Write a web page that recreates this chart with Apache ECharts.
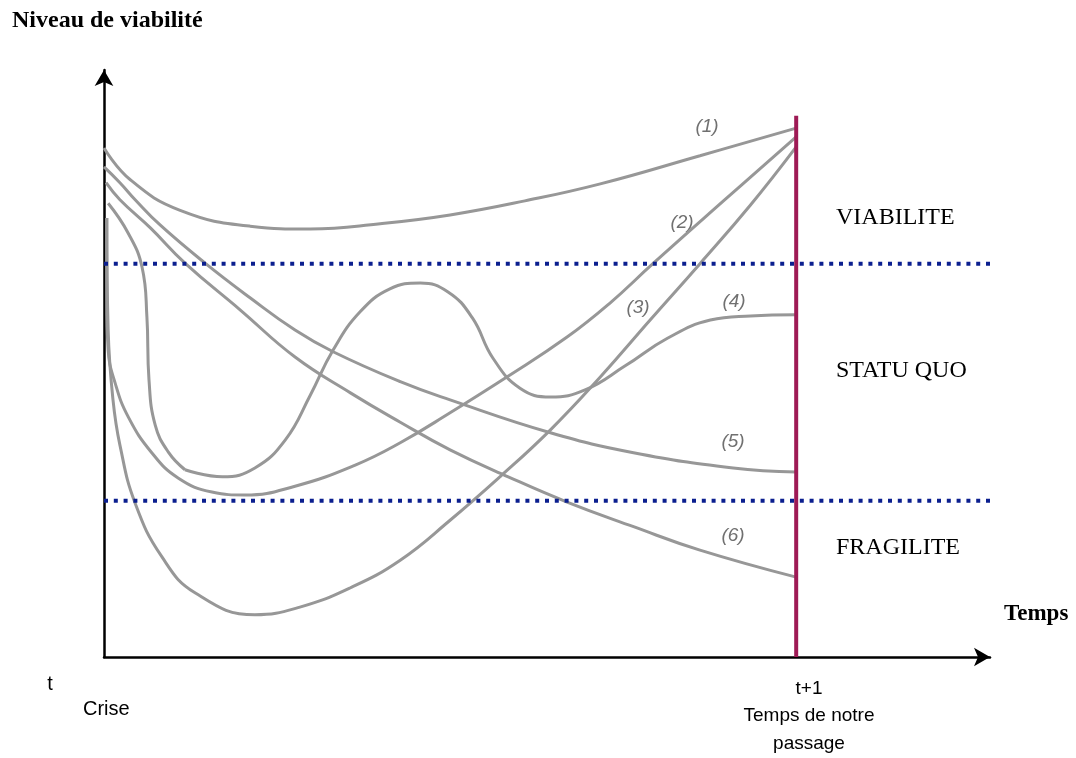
<!DOCTYPE html>
<html>
<head>
<meta charset="utf-8">
<script src="https://cdn.jsdelivr.net/npm/echarts@6/dist/echarts.min.js"></script>
<style>
  html, body { margin: 0; padding: 0; background: #fff; }
  #main { width: 1076px; height: 758px; }
</style>
</head>
<body>
<div id="main"></div>
<script>
// time runs from t (crise) = 0 to t+1 (notre passage) = 100, viability 0..100
var tCrise = 0;
var tPassage = 100;
var passageTop = 92.2;
var levels = [67, 26.6];            // seuils viabilite / fragilite
var zoneNames = ['VIABILITE', 'STATU QUO', 'FRAGILITE'];
var curveNames = ['(1)', '(2)', '(3)', '(4)', '(5)', '(6)'];

var curve1 = [[0, 86.7], [3.8, 81.3], [11, 76.1], [21.1, 73.4], [29.8, 72.9], [39.9, 73.8], [50, 75.3], [60.8, 77.7], [71.7, 80.6], [86.1, 85.4], [100, 90.1]];
var curve2 = [[0.4, 74.8], [0.4, 60.8], [0.6, 52.3], [1.6, 46.7], [3.5, 40.9], [6.9, 34.8], [10.7, 30.5], [15.6, 28.1], [20.4, 27.6], [27.6, 29.1], [36.3, 32.7], [42.8, 36.5], [50, 41.6], [58.2, 47.7], [66.9, 54.5], [73.1, 60.3], [79.3, 67], [89.7, 77.9], [100, 88.6]];
var curve3 = [[0.4, 74.8], [0.6, 55.7], [1.3, 43.8], [2.3, 36.1], [4.5, 26.2], [8.4, 17], [13.2, 10.9], [21.8, 7.2], [28.3, 8.5], [35.6, 11.8], [42.8, 16.5], [50, 23.3], [57.2, 30.7], [64.5, 38.7], [71.7, 47.7], [78.9, 57.4], [86.1, 67], [93.4, 77], [100, 86.9]];
var curve4 = [[0.6, 77.3], [3.5, 72.2], [5.5, 66.4], [6.2, 57.9], [6.5, 47.2], [7.4, 39.5], [9.3, 34.9], [11.7, 31.9], [17.1, 30.7], [21.8, 32.2], [26.2, 37], [29.8, 44.6], [33.1, 52.3], [37, 58.8], [41.3, 62.7], [45.7, 63.7], [49.7, 62.2], [53.2, 57.8], [56.2, 50.9], [60.1, 45.8], [64.5, 44.3], [69.5, 45.5], [75.3, 49.6], [81.4, 54.3], [87.6, 57.4], [93.4, 58.1], [100, 58.3]];
var curve5 = [[0, 83.5], [2.3, 80.8], [4.5, 77.9], [8.1, 73.6], [14.6, 67.1], [21.1, 61.2], [27.6, 55.7], [33.1, 52], [42.8, 46.9], [50, 43.8], [64.5, 38.2], [76.5, 34.8], [90.9, 32.2], [100, 31.5]];
var curve6 = [[0.3, 80.8], [2.3, 77.9], [6.7, 73.1], [11.7, 67.1], [19.7, 59.1], [27.6, 51.1], [35.6, 45], [42.8, 40], [50, 35.3], [58.4, 30.7], [66.9, 26.4], [76.5, 22.2], [86.1, 18.2], [100, 13.6]];

var xMax = 128;

var chart = echarts.init(document.getElementById('main'));

function curve(data) {
    return {
        type: 'line',
        data: data,
        smooth: 0.45,
        symbol: 'none',
        clip: false,
        silent: true,
        z: 2,
        lineStyle: { color: '#979797', width: 3 }
    };
}

var series = [
    curve(curve1),
    curve(curve2),
    curve(curve3),
    curve(curve4.slice(0, 8)),
    curve(curve4.slice(7)),
    curve(curve5),
    curve(curve6)
];

levels.forEach(function (lv) {
    series.push({
        type: 'line',
        data: [[0, lv], [xMax, lv]],
        symbol: 'none',
        silent: true,
        clip: false,
        z: 3,
        lineStyle: { color: '#0b1f8f', width: 4, type: [4, 5.8], cap: 'butt' }
    });
});

series.push({
    type: 'line',
    data: [[tPassage, 0], [tPassage, passageTop]],
    symbol: 'none',
    silent: true,
    clip: false,
    z: 4,
    lineStyle: { color: '#9e1a55', width: 4 }
});

var serif = '"Liberation Serif", "Times New Roman", serif';
var sans = '"Liberation Sans", Arial, Helvetica, sans-serif';

function txt(text, x, y, font, color, align) {
    return {
        type: 'text',
        x: x,
        y: y,
        style: {
            text: text,
            font: font,
            fill: color || '#000',
            align: align || 'left',
            verticalAlign: 'middle',
            lineHeight: 27.5
        }
    };
}

var graphics = [
    txt('Niveau de viabilité', 12, 21, 'bold 24px ' + serif),
    txt('Temps', 1004, 614, 'bold 23px ' + serif),
    txt(zoneNames[0], 836, 218, '24px ' + serif),
    txt(zoneNames[1], 836, 371, '24px ' + serif),
    txt(zoneNames[2], 836, 548, '24px ' + serif),
    txt('t', 50, 684, '20px ' + sans, '#000', 'center'),
    txt('Crise', 83, 709, '20px ' + sans),
    txt('t+1\nTemps de notre\npassage', 809, 716, '19px ' + sans, '#000', 'center')
];

var labelPos = [[707, 127], [682, 223], [638, 308], [734, 302], [733, 442], [733, 536]];
curveNames.forEach(function (n, i) {
    graphics.push(txt(n, labelPos[i][0], labelPos[i][1], 'italic 19px ' + sans, '#707070', 'center'));
});

var option = {
    animation: false,
    backgroundColor: '#fff',
    grid: { left: 104, right: 86, top: 70, bottom: 101 },
    xAxis: {
        type: 'value',
        min: tCrise,
        max: xMax,
        splitLine: { show: false },
        axisTick: { show: false },
        axisLabel: { show: false },
        axisLine: {
            show: true,
            onZero: false,
            symbol: ['none', 'arrow'],
            symbolSize: [14, 16],
            lineStyle: { color: '#000', width: 2.5 }
        }
    },
    yAxis: {
        type: 'value',
        min: 0,
        max: 100,
        splitLine: { show: false },
        axisTick: { show: false },
        axisLabel: { show: false },
        axisLine: {
            show: true,
            onZero: false,
            symbol: ['none', 'arrow'],
            symbolSize: [14, 16],
            lineStyle: { color: '#000', width: 2.5 }
        }
    },
    series: series,
    graphic: graphics
};

chart.setOption(option);
</script>
</body>
</html>
